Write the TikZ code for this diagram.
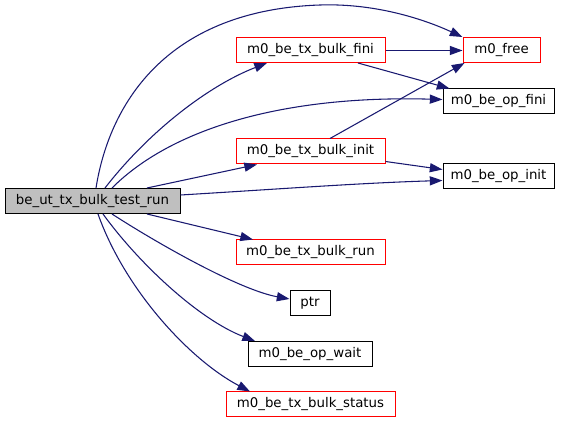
\documentclass[tikz,border=0pt]{standalone}
\usepackage{fontspec}
\setmainfont{DejaVu Sans}
\usetikzlibrary{arrows.meta,calc}
\definecolor{edgeblue}{HTML}{191970}
\definecolor{nodegray}{HTML}{BFBFBF}
\tikzset{
  box/.style={draw=black,line width=0.75pt,minimum height=18.75pt,inner sep=0pt,font=\fontsize{10pt}{12pt}\selectfont,anchor=center},
  redbox/.style={box,draw=red},
  mainbox/.style={box,fill=nodegray},
  edge/.style={draw=edgeblue,line width=0.8pt,-{Triangle[length=9.5pt,width=6.8pt]}},
}
\begin{document}
\begin{tikzpicture}[x=0.75pt,y=-0.75pt]
\useasboundingbox (0,0) rectangle (565,424);
\node[mainbox,minimum width=131.25pt] (main) at (92.5,201) {be\_ut\_tx\_bulk\_test\_run};
\node[redbox,minimum width=111.75pt] (fini) at (310.5,50) {m0\_be\_tx\_bulk\_fini};
\node[redbox,minimum width=57.75pt] (free) at (501.5,50) {m0\_free};
\node[box,minimum width=83.25pt] (opfini) at (498.5,101.5) {m0\_be\_op\_fini};
\node[redbox,minimum width=111.75pt] (init) at (310.5,151.5) {m0\_be\_tx\_bulk\_init};
\node[box,minimum width=83.25pt] (opinit) at (498.5,176.5) {m0\_be\_op\_init};
\node[redbox,minimum width=111.75pt] (run) at (310.5,252.5) {m0\_be\_tx\_bulk\_run};
\node[box,minimum width=30pt] (ptr) at (310,303.5) {ptr};
\node[box,minimum width=93pt] (opwait) at (310,354) {m0\_be\_op\_wait};
\node[redbox,minimum width=126.75pt] (status) at (310.5,404.5) {m0\_be\_tx\_bulk\_status};

\draw[edge] ($(main.north)+(3.5,0)$) .. controls (110,100) and (170,10) .. (320,5)
  .. controls (380,3) and (430,22) .. (free.north west);
\draw[edge] ($(main.north)+(12.5,0)$) .. controls (150,130) and (210,85) .. ($(fini.south)+(-43.5,0)$);
\draw[edge] ($(main.north)+(19.5,0)$) .. controls (170,130) and (280,95) .. ($(opfini.west)+(0,-2)$);
\draw[edge] ($(main.north)+(54.5,0)$) -- ($(init.south)+(-53.5,0)$);
\draw[edge] ($(main.east)+(0,-6)$) .. controls (280,189) and (360,183) .. ($(opinit.west)+(0,4)$);
\draw[edge] ($(main.south)+(54.5,0)$) -- ($(run.north)+(-57.5,0)$);
\draw[edge] ($(main.south)+(19.5,0)$) .. controls (160,245) and (240,290) .. ($(ptr.west)+(0,-4.5)$);
\draw[edge] ($(main.south)+(10.5,0)$) .. controls (140,265) and (200,320) .. ($(opwait.north)+(-55,0)$);
\draw[edge] ($(main.south)+(5.5,0)$) .. controls (125,290) and (190,360) .. ($(status.north)+(-60.5,0)$);

\draw[edge] ($(fini.east)+(0,0.5)$) -- ($(free.west)+(0,0.5)$);
\draw[edge] ($(fini.south)+(47.5,0)$) -- ($(opfini.north)+(-49,0)$);
\draw[edge] ($(init.north)+(19.5,0)$) -- ($(free.south west)+(2,0)$);
\draw[edge] ($(init.east)+(0,10)$) -- ($(opinit.west)+(0,-7)$);
\end{tikzpicture}
\end{document}
